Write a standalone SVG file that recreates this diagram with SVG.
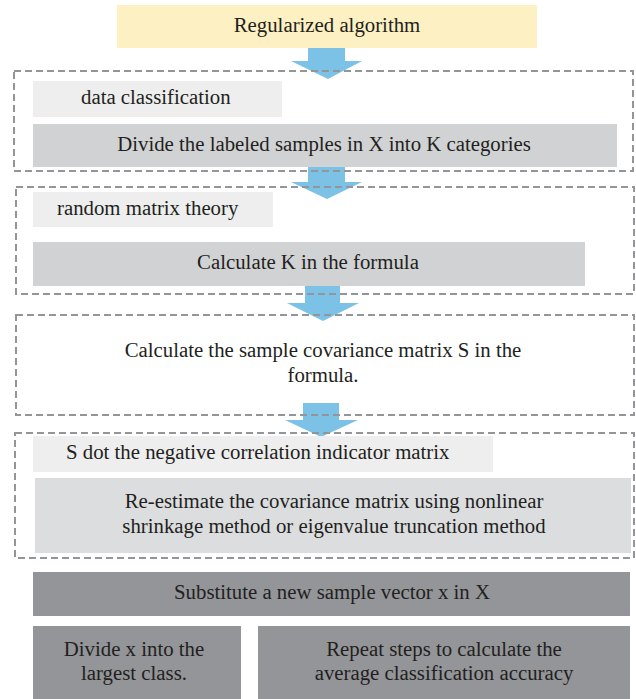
<svg xmlns="http://www.w3.org/2000/svg" width="636" height="699" viewBox="0 0 636 699">
<style>
text{font-family:"Liberation Serif","Times New Roman",serif;font-size:20.8px;fill:#231f20}
.m{text-anchor:middle}
.dash{fill:none;stroke:#939598;stroke-width:2;stroke-dasharray:7 4}
.arrow{fill:#7cc1e6}
</style>
<rect width="636" height="699" fill="#ffffff"/>
<g id="connectors">
<polygon class="arrow" points="308,43 345,43 345,61 362,61 328,79 291,61 308,61"/>
<polygon class="arrow" points="308,163 345,163 345,182 362,182 327,199 291,182 308,182"/>
<polygon class="arrow" points="305,286 340,286 340,303 359,303 323,321 287,303 305,303"/>
<polygon class="arrow" points="303,403 339,403 339,420 358,420 321,437 285,420 303,420"/>
</g>
<g id="regularized">
<rect x="117" y="5" width="420" height="43" fill="#fdf0c3"/>
<text class="m" x="327" y="32">Regularized algorithm</text>
</g>
<g id="group1">
<rect class="dash" x="14" y="71" width="619" height="100"/>
</g>
<g id="data-classification">
<rect x="33" y="81" width="249" height="36" fill="#eeeeee"/>
<text x="81" y="104">data classification</text>
</g>
<g id="divide-labeled">
<rect x="33" y="124" width="584" height="43" fill="#d1d2d4"/>
<text class="m" x="324" y="151">Divide the labeled samples in X into K categories</text>
</g>
<g id="group2">
<rect class="dash" x="16" y="187" width="618" height="107"/>
</g>
<g id="random-matrix">
<rect x="33" y="192" width="240" height="35" fill="#eeeeee"/>
<text x="57" y="215">random matrix theory</text>
</g>
<g id="calculate-k">
<rect x="33" y="242" width="552" height="44" fill="#d1d2d4"/>
<text class="m" x="308" y="269">Calculate K in the formula</text>
</g>
<g id="calculate-s">
<rect class="dash" x="16" y="315" width="618" height="100"/>
<text class="m" x="323" y="357">Calculate the sample covariance matrix S in the</text>
<text class="m" x="323" y="382">formula.</text>
</g>
<g id="group4">
<rect class="dash" x="15" y="433" width="619" height="125"/>
</g>
<g id="s-dot">
<rect x="33" y="436" width="460" height="36" fill="#eeeeee"/>
<text x="66" y="459">S dot the negative correlation indicator matrix</text>
</g>
<g id="re-estimate">
<rect x="35" y="478" width="596" height="75" fill="#dcdddf"/>
<text class="m" x="334" y="508">Re-estimate the covariance matrix using nonlinear</text>
<text class="m" x="334" y="533">shrinkage method or eigenvalue truncation method</text>
</g>
<g id="substitute">
<rect x="33" y="572" width="597" height="44" fill="#939598"/>
<text class="m" x="332" y="599">Substitute a new sample vector x in X</text>
</g>
<g id="divide-x">
<rect x="33" y="626" width="208" height="73" fill="#939598"/>
<text class="m" x="134" y="656">Divide x into the</text>
<text class="m" x="134" y="680">largest class.</text>
</g>
<g id="repeat">
<rect x="258" y="626" width="372" height="73" fill="#939598"/>
<text class="m" x="444" y="656">Repeat steps to calculate the</text>
<text class="m" x="444" y="680">average classification accuracy</text>
</g>
</svg>
